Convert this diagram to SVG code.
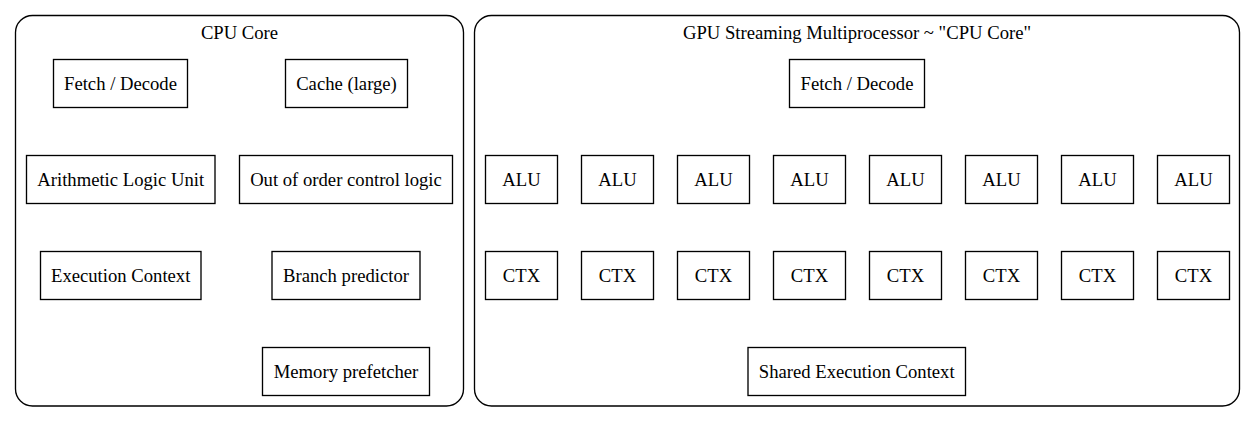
<svg xmlns="http://www.w3.org/2000/svg" width="1256" height="423" viewBox="0 0 1256 423">
<style>
.cl{fill:none;stroke:#000;stroke-width:1.33}
.nd rect{fill:#fff;stroke:#000;stroke-width:1.33}
text{font-family:'Liberation Serif',serif;font-size:18.67px;fill:#000;text-anchor:middle}
</style>
<rect width="1256" height="423" fill="#fff"/>
<g id="cluster_cpu">
<rect class="cl" x="15.5" y="15.5" width="448" height="390.5" rx="17" ry="17"/>
<text x="239.5" y="39">CPU Core</text>
</g>
<g id="cluster_gpu">
<rect class="cl" x="474.5" y="15.5" width="765" height="390.5" rx="17" ry="17"/>
<text x="857" y="39">GPU Streaming Multiprocessor ~ "CPU Core"</text>
</g>
<g id="cpu_fetch" class="nd"><rect x="53.5" y="59.5" width="134" height="48"/><text x="120.5" y="89.7">Fetch / Decode</text></g>
<g id="cpu_cache" class="nd"><rect x="285.5" y="59.5" width="122" height="48"/><text x="346.5" y="89.7">Cache (large)</text></g>
<g id="cpu_alu" class="nd"><rect x="26.5" y="155.5" width="188.5" height="48"/><text x="120.7" y="185.7">Arithmetic Logic Unit</text></g>
<g id="cpu_ooo" class="nd"><rect x="239.5" y="155.5" width="213" height="48"/><text x="346" y="185.7">Out of order control logic</text></g>
<g id="cpu_ctx" class="nd"><rect x="40.5" y="251.5" width="160.5" height="48"/><text x="120.7" y="281.7">Execution Context</text></g>
<g id="cpu_branch" class="nd"><rect x="272" y="251.5" width="148" height="48"/><text x="346" y="281.7">Branch predictor</text></g>
<g id="cpu_prefetch" class="nd"><rect x="262.5" y="347.5" width="167" height="48"/><text x="346" y="377.7">Memory prefetcher</text></g>
<g id="gpu_fetch" class="nd"><rect x="789.5" y="59.5" width="135" height="48"/><text x="857" y="89.7">Fetch / Decode</text></g>
<g id="gpu_alu1" class="nd"><rect x="485.5" y="155.5" width="72" height="48"/><text x="521.5" y="185.7">ALU</text></g>
<g id="gpu_alu2" class="nd"><rect x="581.5" y="155.5" width="72" height="48"/><text x="617.5" y="185.7">ALU</text></g>
<g id="gpu_alu3" class="nd"><rect x="677.5" y="155.5" width="72" height="48"/><text x="713.5" y="185.7">ALU</text></g>
<g id="gpu_alu4" class="nd"><rect x="773.5" y="155.5" width="72" height="48"/><text x="809.5" y="185.7">ALU</text></g>
<g id="gpu_alu5" class="nd"><rect x="869.5" y="155.5" width="72" height="48"/><text x="905.5" y="185.7">ALU</text></g>
<g id="gpu_alu6" class="nd"><rect x="965.5" y="155.5" width="72" height="48"/><text x="1001.5" y="185.7">ALU</text></g>
<g id="gpu_alu7" class="nd"><rect x="1061.5" y="155.5" width="72" height="48"/><text x="1097.5" y="185.7">ALU</text></g>
<g id="gpu_alu8" class="nd"><rect x="1157.5" y="155.5" width="72" height="48"/><text x="1193.5" y="185.7">ALU</text></g>
<g id="gpu_ctx1" class="nd"><rect x="485.5" y="251.5" width="72" height="48"/><text x="521.5" y="281.7">CTX</text></g>
<g id="gpu_ctx2" class="nd"><rect x="581.5" y="251.5" width="72" height="48"/><text x="617.5" y="281.7">CTX</text></g>
<g id="gpu_ctx3" class="nd"><rect x="677.5" y="251.5" width="72" height="48"/><text x="713.5" y="281.7">CTX</text></g>
<g id="gpu_ctx4" class="nd"><rect x="773.5" y="251.5" width="72" height="48"/><text x="809.5" y="281.7">CTX</text></g>
<g id="gpu_ctx5" class="nd"><rect x="869.5" y="251.5" width="72" height="48"/><text x="905.5" y="281.7">CTX</text></g>
<g id="gpu_ctx6" class="nd"><rect x="965.5" y="251.5" width="72" height="48"/><text x="1001.5" y="281.7">CTX</text></g>
<g id="gpu_ctx7" class="nd"><rect x="1061.5" y="251.5" width="72" height="48"/><text x="1097.5" y="281.7">CTX</text></g>
<g id="gpu_ctx8" class="nd"><rect x="1157.5" y="251.5" width="72" height="48"/><text x="1193.5" y="281.7">CTX</text></g>
<g id="gpu_shared" class="nd"><rect x="748" y="347.5" width="217.5" height="48"/><text x="856.7" y="377.7">Shared Execution Context</text></g>
<g id="connectors"></g>
</svg>
